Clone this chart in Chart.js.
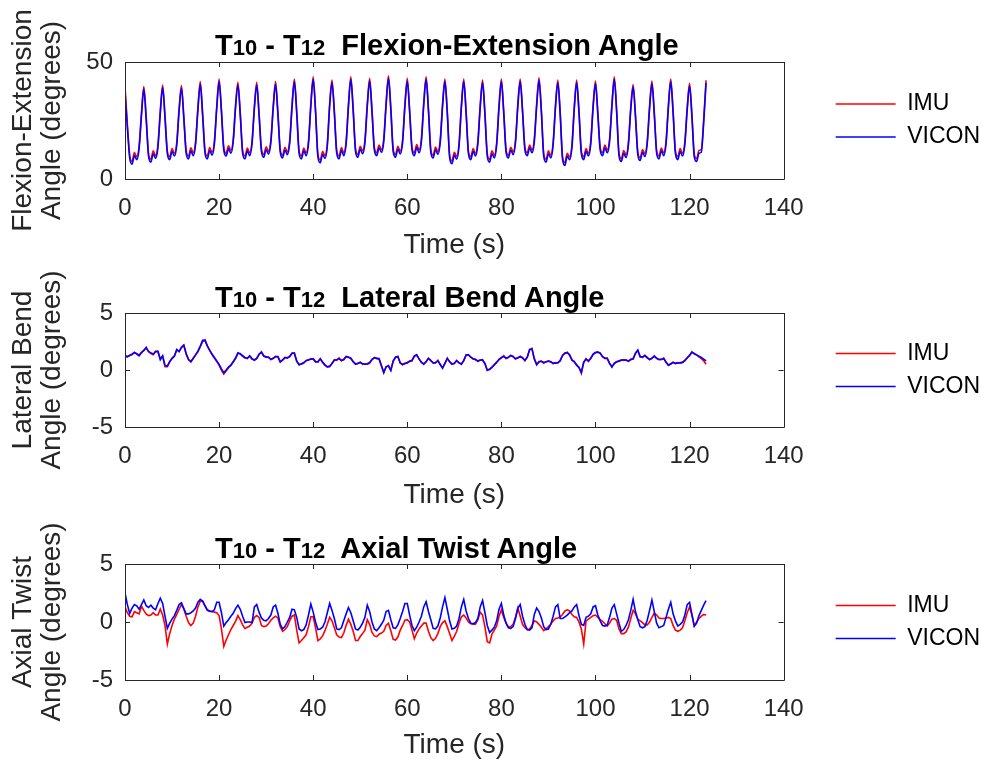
<!DOCTYPE html>
<html>
<head>
    <meta charset="utf-8">
    <title>T10 - T12 Angles</title>
    <script src="https://cdn.jsdelivr.net/npm/chart.js"></script>
    <style>
        body { margin: 0; background: #fff; }
        #page { position: relative; width: 982px; height: 765px; overflow: hidden; }
        #page canvas { position: absolute; left: 0; }
        .titulo {
            position: absolute; left: 215px; z-index: 2;
            font: bold 29px "Liberation Sans", Arial, sans-serif;
            line-height: 29px; color: #000; white-space: pre;
        }
        .titulo .sub { font-size: 22px; }
    </style>
</head>
<body>
<div id="page">
    <canvas id="feChart" width="982" height="262" style="top: 0px;"></canvas>
    <canvas id="lbChart" width="982" height="250" style="top: 262px;"></canvas>
    <canvas id="atChart" width="982" height="253" style="top: 512px;"></canvas>

    <div class="titulo" style="top: 31px;">T<span class="sub">10</span> - T<span class="sub">12</span>  Flexion-Extension Angle</div>
    <div class="titulo" style="top: 283px;">T<span class="sub">10</span> - T<span class="sub">12</span>  Lateral Bend Angle</div>
    <div class="titulo" style="top: 534px;">T<span class="sub">10</span> - T<span class="sub">12</span>  Axial Twist Angle</div>
</div>

<script>
    // samples every 0.5 s, starting at t = 0
    var SAMPLE_STEP = 0.5;

    var timeTicks = [0, 20, 40, 60, 80, 100, 120, 140];
    var feTicks = [0, 50];
    var degTicks = [-5, 0, 5];
    var seriesNames = ['IMU', 'VICON'];

    // Flexion-Extension (degrees)
    var feImu = [
        39.3, 23.5, 10.2, 7.5, 11.3, 9.5, 14.3, 28.3,
        39.5, 26.8, 11, 8.4, 12.1, 10, 14.7, 29.3,
        40.2, 27.3, 12, 9.5, 13, 11, 15.7, 30.2,
        39.9, 27, 12.2, 9.8, 13.3, 11.2, 16, 30.7,
        41.6, 28.3, 12.4, 9.8, 13.4, 11.4, 16.2, 31.2,
        42.7, 29.7, 13.5, 11, 14.2, 12.2, 17, 31.7,
        41.3, 28.4, 12.2, 9.8, 13.2, 11.2, 16.2, 31.2,
        41.3, 28.2, 13, 10.5, 13.8, 11.8, 16.7, 31.2,
        41.6, 28.7, 12.7, 10.2, 13.6, 11.6, 16.4, 31.7,
        42.7, 29.2, 12.2, 9.8, 13.2, 11.2, 16.2, 32.2,
        43.7, 29.7, 10.7, 8.1, 11.7, 10, 15.2, 32.2,
        42.3, 29.2, 12.2, 9.8, 13.4, 11.2, 16.2, 32.2,
        43.7, 30.2, 13, 10.5, 14, 12, 16.7, 32.2,
        43, 29.7, 13.6, 11.2, 14.5, 12.6, 17.2, 32.7,
        44.1, 30.7, 13, 10.5, 14, 11.9, 16.7, 32.2,
        43, 29.7, 13.7, 11.2, 14.7, 12.4, 17.2, 32.7,
        43.7, 30.2, 12.7, 10.2, 13.7, 11.7, 16.7, 32.2,
        42.7, 29.2, 10.4, 7.7, 11.4, 9.7, 15.2, 31.7,
        42.7, 29.2, 12, 9.5, 13, 11, 16.2, 31.7,
        42.3, 28.7, 11, 8.4, 12, 10.2, 15.7, 31.7,
        42.7, 29.2, 12.6, 10.2, 13.6, 11.6, 16.7, 32.2,
        42.7, 29.7, 13.6, 11.2, 14.5, 12.4, 17.2, 32.2,
        43.3, 29.7, 11, 8.4, 12, 10.2, 15.7, 31.7,
        42.3, 28.7, 9.7, 7, 11, 9.4, 14.7, 31.2,
        42.3, 29.2, 12, 9.5, 13, 11, 16.2, 31.7,
        41.9, 28.7, 13.6, 11.2, 14.5, 12.4, 17.2, 32.2,
        43.7, 29.7, 11.2, 8.7, 12.2, 10.4, 15.7, 30.7,
        40.4, 27.7, 11.6, 9.1, 12.6, 10.8, 16.2, 31.2,
        41.9, 28.7, 12.2, 9.8, 13.2, 11.2, 16.2, 31.7,
        42.7, 29.2, 12, 9.5, 13, 11, 16, 30.7,
        40.9, 27.7, 10.7, 8.7, 12.2, 12.7, 25.2, 42.2
    ];
    var feVicon = [
        37.5, 22, 9, 6.3, 10, 8.3, 13, 27,
        38.4, 25.5, 9.8, 7.2, 10.8, 8.8, 13.5, 28,
        39.1, 26, 10.8, 8.3, 11.8, 9.8, 14.5, 29,
        38.8, 25.8, 11, 8.6, 12, 10, 14.8, 29.5,
        40.5, 27, 11.2, 8.6, 12.2, 10.2, 15, 30,
        41.6, 28.5, 12.3, 9.8, 13, 11, 15.8, 30.5,
        40.2, 27.2, 11, 8.6, 12, 10, 15, 30,
        40.2, 27, 11.8, 9.3, 12.6, 10.6, 15.5, 30,
        40.5, 27.5, 11.5, 9, 12.4, 10.4, 15.2, 30.5,
        41.6, 28, 11, 8.6, 12, 10, 15, 31,
        42.6, 28.5, 9.5, 6.9, 10.5, 8.8, 14, 31,
        41.2, 28, 11, 8.6, 12.2, 10, 15, 31,
        42.6, 29, 11.8, 9.3, 12.8, 10.8, 15.5, 31,
        41.9, 28.5, 12.4, 10, 13.3, 11.4, 16, 31.5,
        43, 29.5, 11.8, 9.3, 12.8, 10.7, 15.5, 31,
        41.8, 28.5, 12.5, 10, 13.5, 11.2, 16, 31.5,
        42.6, 29, 11.5, 9, 12.5, 10.5, 15.5, 31,
        41.6, 28, 9.2, 6.5, 10.2, 8.5, 14, 30.5,
        41.6, 28, 10.8, 8.3, 11.8, 9.8, 15, 30.5,
        41.2, 27.5, 9.8, 7.2, 10.8, 9, 14.5, 30.5,
        41.6, 28, 11.4, 9, 12.4, 10.4, 15.5, 31,
        41.6, 28.5, 12.4, 10, 13.3, 11.2, 16, 31,
        42.2, 28.5, 9.8, 7.2, 10.8, 9, 14.5, 30.5,
        41.2, 27.5, 8.5, 5.8, 9.8, 8.2, 13.5, 30,
        41.2, 28, 10.8, 8.3, 11.8, 9.8, 15, 30.5,
        40.8, 27.5, 12.4, 10, 13.3, 11.2, 16, 31,
        42.6, 28.5, 10, 7.5, 11, 9.2, 14.5, 29.5,
        39.3, 26.5, 10.4, 7.9, 11.4, 9.6, 15, 30,
        40.8, 27.5, 11, 8.6, 12, 10, 15, 30.5,
        41.6, 28, 10.8, 8.3, 11.8, 9.8, 14.8, 29.5,
        39.8, 26.5, 9.5, 7.5, 11, 11.5, 24, 41
    ];

    // Lateral Bend (degrees)
    var lbImu = [
        1.25, 1.2, 1.25, 1.4, 1.5, 1.45, 1.3, 1.5,
        1.75, 1.9, 1.65, 1.45, 1.35, 1.65, 1.6, 1.0,
        1.2, 0.3, 0.3, 0.7, 1.05, 1.25, 1.75, 1.65,
        1.95, 2.15, 1.45, 0.95, 0.7, 1.05, 1.35, 1.6,
        2.05, 2.5, 2.65, 2.15, 1.7, 1.35, 1.05, 0.75,
        0.4, 0.0, -0.35, -0.1, 0.2, 0.45, 0.75, 1.0,
        1.45, 1.45, 1.2, 1.05, 1.05, 1.2, 0.95, 0.9,
        1.05, 1.35, 1.6, 1.25, 1.1, 1.15, 0.9, 1.05,
        1.15, 1.2, 0.75, 0.85, 1.05, 1.1, 1.15, 1.5,
        1.45, 0.75, 0.5, 0.5, 0.6, 0.85, 0.85, 1.0,
        0.95, 0.7, 0.75, 0.95, 0.65, 0.4, 0.25, 0.35,
        0.55, 0.9, 0.85, 1.05, 0.8, 0.95, 1.15, 1.1,
        1.05, 0.7, 0.55, 0.55, 0.7, 0.5, 0.55, 0.5,
        0.6, 0.95, 1.05, 1.05, 0.95, 0.35, -0.2, 0.25,
        0.4, 0.0, 0.75, 1.15, 1.15, 0.65, 0.45, 0.6,
        0.6, 0.8, 0.8, 1.25, 1.3, 1.0, 0.65, 0.55,
        0.7, 1.05, 0.8, 0.65, 0.6, 0.85, 0.45, 0.2,
        0.55, 1.05, 0.7, 0.55, 0.55, 0.85, 0.6, 0.55,
        0.8, 1.35, 1.3, 1.15, 0.95, 0.95, 0.75, 0.9,
        0.85, 0.6, -0.05, 0.1, 0.2, 0.5, 0.65, 0.95,
        1.05, 1.25, 1.0, 1.15, 1.25, 1.2, 0.95, 1.1,
        1.15, 1.1, 0.8, 1.15, 1.75, 1.9, 0.95, 0.5,
        0.7, 0.8, 0.6, 0.75, 0.75, 0.75, 0.55, 0.65,
        0.6, 0.85, 1.25, 1.5, 1.5, 1.35, 0.85, 0.75,
        0.4, 0.25, -0.3, 0.65, 1.0, 0.75, 1.05, 1.35,
        1.5, 1.6, 1.45, 1.2, 1.0, 1.05, 0.55, 0.3,
        0.55, 0.75, 0.75, 0.9, 0.85, 0.9, 0.75, 0.95,
        0.95, 1.5, 1.7, 1.2, 1.1, 1.3, 1.05, 0.95,
        1.0, 1.25, 1.0, 0.95, 0.9, 1.05, 0.65, 0.45,
        0.5, 0.7, 0.55, 0.65, 0.6, 0.7, 0.8, 1.1,
        1.25, 1.6, 1.4, 1.35, 1.15, 1.0, 0.8, 0.5
    ];
    var lbVicon = [
        1.2, 1.15, 1.3, 1.35, 1.55, 1.4, 1.25, 1.55,
        1.7, 2.0, 1.6, 1.5, 1.4, 1.6, 1.65, 0.9,
        1.25, 0.4, 0.35, 0.75, 1.0, 1.2, 1.8, 1.6,
        2.0, 2.2, 1.4, 0.9, 0.75, 1.0, 1.3, 1.65,
        2.1, 2.6, 2.6, 2.1, 1.75, 1.4, 1.1, 0.8,
        0.5, 0.1, -0.25, 0.0, 0.25, 0.4, 0.7, 1.05,
        1.5, 1.4, 1.25, 1.1, 1.0, 1.25, 1.0, 0.85,
        1.0, 1.4, 1.55, 1.2, 1.15, 1.1, 0.95, 1.0,
        1.2, 1.15, 0.7, 0.9, 1.1, 1.05, 1.2, 1.45,
        1.5, 0.8, 0.45, 0.55, 0.65, 0.8, 0.9, 0.95,
        1.0, 0.75, 0.7, 1.0, 0.7, 0.45, 0.3, 0.3,
        0.6, 0.85, 0.9, 1.0, 0.85, 0.9, 1.2, 1.15,
        1.0, 0.75, 0.5, 0.6, 0.65, 0.55, 0.5, 0.55,
        0.65, 0.9, 1.1, 1.0, 1.0, 0.4, -0.25, 0.3,
        0.35, -0.05, 0.8, 1.1, 1.2, 0.6, 0.5, 0.55,
        0.65, 0.75, 0.85, 1.2, 1.35, 0.95, 0.7, 0.5,
        0.75, 1.0, 0.85, 0.6, 0.65, 0.8, 0.5, 0.15,
        0.6, 1.0, 0.75, 0.5, 0.6, 0.8, 0.65, 0.5,
        0.85, 1.3, 1.35, 1.1, 1.0, 0.9, 0.8, 0.85,
        0.9, 0.55, 0.0, 0.05, 0.25, 0.45, 0.7, 0.9,
        1.1, 1.2, 1.05, 1.1, 1.3, 1.15, 1.0, 1.05,
        1.2, 1.05, 0.85, 1.1, 1.8, 1.85, 1.0, 0.45,
        0.75, 0.75, 0.65, 0.7, 0.8, 0.7, 0.6, 0.6,
        0.65, 0.8, 1.3, 1.45, 1.55, 1.3, 0.9, 0.7,
        0.45, 0.2, -0.2, 0.7, 0.95, 0.8, 1.0, 1.4,
        1.55, 1.55, 1.5, 1.15, 1.05, 1.0, 0.6, 0.25,
        0.6, 0.7, 0.8, 0.85, 0.9, 0.85, 0.8, 0.9,
        1.0, 1.45, 1.75, 1.15, 1.15, 1.25, 1.1, 0.9,
        1.05, 1.2, 1.05, 0.9, 0.95, 1.0, 0.7, 0.4,
        0.55, 0.65, 0.6, 0.6, 0.65, 0.65, 0.85, 1.05,
        1.3, 1.55, 1.45, 1.3, 1.2, 1.1, 0.95, 0.8
    ];

    // Axial Twist (degrees)
    var atImu = [
        1.3, 0.8, 0.5, 0.45, 0.9, 0.8, 0.7, 1.35,
        1.0, 0.7, 0.55, 0.6, 0.8, 0.6, 0.6, 1.1,
        0.6, -0.3, -1.9, -1.0, -0.3, 0.25, 0.65, 1.1,
        1.5, 1.15, 0.5, -0.05, -0.3, -0.1, 0.5, 1.3,
        1.8, 1.8, 1.4, 1.0, 0.9, 0.9, 0.85, 0.8,
        0.55, -0.6, -2.1, -1.55, -1.1, -0.65, -0.3, 0.05,
        0.55, 0.2, -0.25, -0.55, -0.45, -0.35, -0.1, 0.4,
        0.55, 0.4, -0.3, -0.4, -0.35, -0.15, 0.15, 0.35,
        0.5, 0.35, -0.4, -0.8, -0.65, -0.4, 0.1, 0.5,
        0.6, -0.7, -1.8, -1.6, -1.35, -1.1, -0.4, 0.45,
        0.45, -0.5, -1.6, -1.45, -1.2, -0.75, -0.2, 0.4,
        0.1, -0.5, -1.1, -1.3, -1.35, -0.95, -0.3, 0.25,
        -0.2, -0.8, -1.6, -1.6, -1.25, -1.0, -0.7, 0.2,
        -0.2, -0.9, -1.2, -1.25, -1.05, -0.95, -0.8, -0.3,
        -0.1, -0.75, -1.5, -1.55, -1.3, -0.7, -0.3, 0.15,
        0.2, 0.0, -0.7, -1.45, -0.95, -0.6, -0.35, -0.1,
        -0.1, -0.8, -1.35, -1.6, -1.4, -1.0, -0.4, -0.05,
        0.1, -0.4, -1.0, -1.6, -1.25, -0.8, -0.1, 0.45,
        0.6, 0.35, 0.0, -0.15, -0.2, -0.2, 0.2, 0.85,
        0.6, -0.4, -1.7, -1.8, -1.05, -0.7, -0.35, 0.5,
        1.05, 0.4, -0.1, -0.45, -0.4, -0.2, 0.4, 1.2,
        0.5, -0.2, -0.5, -0.65, -0.6, -0.3, 0.1, 0.0,
        -0.2, -0.45, -0.75, -0.6, -0.4, -0.2, 0.1, 0.3,
        0.35, 0.45, 0.65, 0.95, 1.05, 0.95, 0.65, 0.45,
        0.4, 0.0, -0.6, -1.9, 0.1, 0.25, 0.4, 0.55,
        0.6, 0.4, 0.2, 0.05, -0.15, -0.35, -0.1, 0.25,
        0.3, 0.15, -0.6, -1.0, -1.0, -0.85, -0.45, 0.3,
        1.0, 0.7, 0.25, 0.1, -0.05, -0.25, -0.25, 0.0,
        0.4, 0.75, 0.6, 0.35, 0.3, 0.3, 0.35, 0.4,
        0.3, -0.3, -0.7, -0.8, -0.7, -0.5, 0.1, 0.8,
        1.3, 0.6, -0.35, 0.0, 0.3, 0.5, 0.65, 0.6
    ];
    var atVicon = [
        2.5, 1.5, 0.75, 1.2, 1.5, 1.4, 1.1, 1.5,
        1.9, 1.4, 1.25, 1.45, 1.2, 1.05, 1.6, 2.05,
        1.6, 0.5, -0.55, -0.1, 0.25, 0.55, 1.0, 1.5,
        1.65, 1.15, 0.7, 0.7, 0.8, 0.95, 1.2, 1.7,
        1.95, 1.8, 1.4, 1.05, 0.95, 0.9, 1.05, 1.7,
        1.7, 0.8, -0.35, -0.05, 0.2, 0.5, 0.75, 1.15,
        1.45, 1.1, 0.5, -0.05, 0.0, 0.0, -0.05, 1.3,
        1.5, 0.85, 0.35, 0.15, 0.1, 0.3, 0.6, 1.3,
        1.45, 0.75, -0.2, -0.6, -0.4, 0.0, 0.4, 1.1,
        1.05, 0.4, -0.6, -0.75, -0.65, -0.25, 0.6, 1.55,
        0.85, 0.0, -0.65, -0.6, -0.45, 0.0, 0.8, 1.6,
        1.0, 0.3, -0.6, -0.65, -0.5, 0.1, 0.7, 1.25,
        0.8, 0.1, -0.6, -0.7, -0.45, -0.1, 0.4, 1.45,
        0.9, 0.0, -0.6, -0.75, -0.5, -0.2, 0.15, 0.9,
        1.0, 0.2, -0.5, -0.55, -0.25, 0.3, 0.9, 1.6,
        1.6, 0.6, -0.3, -0.75, -0.45, 0.0, 0.5, 1.3,
        1.75, 0.9, 0.2, -0.55, -0.6, -0.35, 0.35, 1.3,
        2.1, 1.1, 0.1, -0.6, -0.55, -0.35, 0.3, 1.3,
        1.95, 0.95, 0.3, -0.1, -0.15, -0.05, 0.3, 1.3,
        1.85, 0.8, -0.3, -0.9, -0.7, -0.45, 0.1, 1.1,
        1.6, 0.6, -0.1, -0.5, -0.55, -0.4, 0.3, 1.2,
        1.5, 0.5, -0.2, -0.65, -0.7, -0.5, 0.65, 1.2,
        0.9, 0.35, -0.4, -0.65, -0.6, -0.2, 0.5, 1.3,
        1.5, 0.3, 0.3, 0.45, 0.6, 0.8, 0.95, 1.3,
        1.5, 0.55, -0.2, -0.3, 0.4, 0.5, 0.7, 1.3,
        1.4, 0.6, 0.1, -0.3, -0.35, -0.25, 0.4, 1.2,
        1.5, 0.7, -0.1, -0.8, -0.65, -0.3, 0.2, 1.0,
        1.95, 0.9, 0.2, -0.4, -0.5, -0.4, 0.15, 1.0,
        1.9, 0.9, -0.1, -0.5, -0.4, -0.3, 0.4, 1.1,
        1.7, 0.7, 0.1, -0.35, -0.2, 0.0, 0.6, 1.5,
        1.7, 0.65, -0.35, -0.1, 0.55, 1.0, 1.45, 1.85
    ];

    var RED = '#ff0000';
    var BLUE = '#0000ff';
    var AXIS_COLOR = '#262626';

    Chart.defaults.font.family = '"Liberation Sans", Arial, sans-serif';
    Chart.defaults.color = AXIS_COLOR;

    function toPoints(values) {
        return values.map(function(v, i) { return { x: i * SAMPLE_STEP, y: v }; });
    }

    function fixedTicks(list) {
        return function(scale) {
            scale.ticks = list.map(function(v) { return { value: v }; });
        };
    }

    // matlab style box with inward tick marks
    var axesBox = {
        id: 'axesBox',
        afterDraw: function(chart) {
            var ctx = chart.ctx;
            var a = chart.chartArea;
            var x = chart.scales.x;
            var y = chart.scales.y;
            var len = 5;
            ctx.save();
            ctx.strokeStyle = AXIS_COLOR;
            ctx.lineWidth = 1;
            ctx.beginPath();
            ctx.rect(Math.round(a.left) + 0.5, Math.round(a.top) + 0.5,
                     Math.round(a.right - a.left), Math.round(a.bottom - a.top));
            x.ticks.forEach(function(t) {
                var px = Math.round(x.getPixelForValue(t.value)) + 0.5;
                ctx.moveTo(px, a.bottom); ctx.lineTo(px, a.bottom - len);
                ctx.moveTo(px, a.top); ctx.lineTo(px, a.top + len);
            });
            y.ticks.forEach(function(t) {
                var py = Math.round(y.getPixelForValue(t.value)) + 0.5;
                ctx.moveTo(a.left, py); ctx.lineTo(a.left + len, py);
                ctx.moveTo(a.right, py); ctx.lineTo(a.right - len, py);
            });
            ctx.stroke();
            ctx.restore();
        }
    };

    function drawPanel(canvasId, p) {
        return new Chart(document.getElementById(canvasId), {
            type: 'line',
            data: {
                datasets: [
                    { label: seriesNames[0], data: toPoints(p.imu), borderColor: RED, backgroundColor: RED, order: 1 },
                    { label: seriesNames[1], data: toPoints(p.vicon), borderColor: BLUE, backgroundColor: BLUE, order: 0 }
                ]
            },
            options: {
                responsive: false,
                animation: false,
                events: [],
                datasets: {
                    line: {
                        borderWidth: 1.6, pointRadius: 0, fill: false,
                        cubicInterpolationMode: p.smooth ? 'monotone' : 'default', tension: 0
                    }
                },
                layout: { padding: { top: p.padTop, bottom: 0, left: 0, right: -8 } },
                plugins: {
                    tooltip: { enabled: false },
                    legend: {
                        position: 'right',
                        fullSize: false,
                        labels: {
                            usePointStyle: true,
                            pointStyle: 'line',
                            pointStyleWidth: 60,
                            padding: 10,
                            color: '#000',
                            font: { size: 23 },
                            sort: function(a, b) { return a.datasetIndex - b.datasetIndex; }
                        }
                    }
                },
                scales: {
                    x: {
                        type: 'linear',
                        min: 0,
                        max: 140,
                        afterBuildTicks: fixedTicks(timeTicks),
                        grid: { display: false, drawTicks: false },
                        border: { display: false },
                        ticks: { font: { size: 24 }, padding: 15, maxRotation: 0 },
                        title: {
                            display: true,
                            text: 'Time (s)',
                            font: { size: 28, lineHeight: 1 },
                            padding: { top: 0, bottom: p.titleGap }
                        },
                        afterFit: function(scale) { scale.height = p.xHeight; }
                    },
                    y: {
                        min: p.yMin,
                        max: p.yMax,
                        afterBuildTicks: fixedTicks(p.yTicks),
                        grid: { display: false, drawTicks: false },
                        border: { display: false },
                        ticks: { font: { size: 24 }, padding: 12 },
                        title: {
                            display: true,
                            text: p.yLabel,
                            font: { size: 28, lineHeight: 1.04 },
                            padding: { top: 9, bottom: 0 }
                        },
                        afterFit: function(scale) { scale.width = 125; }
                    },
                    yGap: {
                        position: 'right',
                        display: true,
                        grid: { display: false, drawTicks: false },
                        border: { display: false },
                        ticks: { display: false },
                        afterFit: function(scale) { scale.width = 42; }
                    }
                }
            },
            plugins: [axesBox]
        });
    }

    drawPanel('feChart', {
        imu: feImu, vicon: feVicon, yMin: 0, yMax: 50, yTicks: feTicks,
        yLabel: ['Flexion-Extension', 'Angle (degrees)'],
        padTop: 62, xHeight: 83, titleGap: 3, smooth: true
    });
    drawPanel('lbChart', {
        imu: lbImu, vicon: lbVicon, yMin: -5, yMax: 5, yTicks: degTicks,
        yLabel: ['Lateral Bend', 'Angle (degrees)'],
        padTop: 51, xHeight: 85, titleGap: 3, smooth: false
    });
    drawPanel('atChart', {
        imu: atImu, vicon: atVicon, yMin: -5, yMax: 5, yTicks: degTicks,
        yLabel: ['Axial Twist', 'Angle (degrees)'],
        padTop: 52, xHeight: 85, titleGap: 6, smooth: false
    });
</script>
</body>
</html>
